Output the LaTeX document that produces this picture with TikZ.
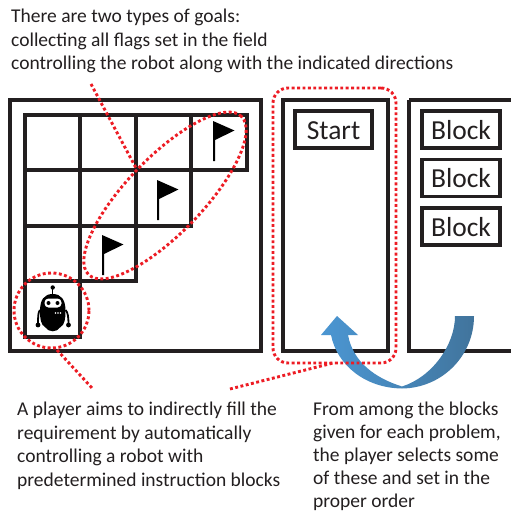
\documentclass[tikz,border=0pt]{standalone}
\usepackage{fontspec}
\setmainfont{Carlito}
\usetikzlibrary{shapes.geometric}
\definecolor{ink}{HTML}{231F20}
\definecolor{reddot}{HTML}{ED1C24}
\definecolor{blueL}{HTML}{4B96D2}
\definecolor{blueD}{HTML}{41749C}
\tikzset{
  panel/.style={draw=ink,line width=4.2pt,fill=none},
  gridline/.style={draw=ink,line width=3.4pt,line cap=rect},
  blockbox/.style={draw=ink,line width=3.8pt,fill=white,inner sep=0pt,minimum height=37pt,font=\fontsize{27.5}{30}\selectfont,text=ink},
  reddash/.style={draw=reddot,line width=2.9pt,dash pattern=on 2.9pt off 2.5pt},
  caption/.style={font=\fontsize{19.5}{23.6}\selectfont,text=ink,align=left,inner sep=0pt,anchor=north west},
  captiontight/.style={caption,font=\fontsize{19.5}{23}\selectfont},
  flagshape/.style={fill=black,draw=none},
}
\newcommand{\flagat}[2]{%
  \fill[flagshape] (#1-1,#2) -- (#1+20.5,#2+9.5) -- (#1+1,#2+19) -- (#1+1,#2+40) -- (#1-1,#2+40) -- cycle;}
\begin{document}
\begin{tikzpicture}[x=1pt,y=-1pt]
\useasboundingbox (0,0) rectangle (511,511);
\fill[white] (0,0) rectangle (511,511);
% panels
\draw[panel] (10,100) rectangle (261,351);
\draw[panel] (283,100) rectangle (388,351);
\draw[panel] (409,100) -- (530,100) (409,100) -- (409,351) -- (530,351);
% grid
\draw[gridline] (25,115) rectangle (247,170);
\draw[gridline] (25,170) rectangle (191,226);
\draw[gridline] (25,226) rectangle (136,281);
\draw[gridline] (25,281) rectangle (80,337);
\draw[gridline] (80,115) -- (80,281) (136,115) -- (136,226) (191,115) -- (191,170);
% flags
\flagat{103}{235}
\flagat{158}{180}
\flagat{214}{121}
% robot
\fill[black] (52.7,287.5) circle (2.2);
\fill[black] (52,288) rectangle (53.4,296);
\fill[black] (40,311) .. controls (40,300) and (44,294) .. (52.7,294)
  .. controls (61.5,294) and (65.5,300) .. (65.5,311)
  .. controls (65.5,318) and (65,325) .. (60,327.5)
  .. controls (57,332.5) and (48.5,332.5) .. (45.5,327.5)
  .. controls (40.5,325) and (40,318) .. (40,311) -- cycle;
\fill[white,rounded corners=4pt] (44.5,298.5) rectangle (61.5,307.5);
\fill[black] (48.5,303) circle (2) (57.5,303) circle (2);
\fill[white] (55.5,313) circle (0.9) (58,313) circle (0.9) (60.5,313) circle (0.9);
\draw[black,line width=1.8pt] (40,310) .. controls (38,312) and (38,318) .. (38,325) (65.5,310) .. controls (68,312) and (68.5,318) .. (68.5,325);
\fill[black] (38,325) circle (2.4) (68.5,325) circle (2.4);
% blocks
\node[blockbox,minimum width=77pt,text depth=0pt,text height=19pt] (start) at (333.5,129.5) {Start};
\node[blockbox,minimum width=78pt,text depth=0pt,text height=19pt] (b1) at (461,129.5) {Block};
\node[blockbox,minimum width=78pt,text depth=0pt,text height=19pt] (b2) at (461,178) {Block};
\node[blockbox,minimum width=78pt,text depth=0pt,text height=19pt] (b3) at (461,226.5) {Block};
% arrow
\shade[left color=blueL,right color=blueD,middle color=blueL!55!blueD]
  (455,316) .. controls (455,345) and (432,377) .. (402,386.5)
  .. controls (375,378) and (353,362) .. (348,335)
  -- (358,335) -- (337,316) -- (321,335) -- (331,335)
  .. controls (337,365) and (365,388) .. (402,388.5)
  .. controls (442,388) and (474,356) .. (474,316) -- cycle;
% highlights
\node[reddash,ellipse,rotate=46,minimum width=220pt,minimum height=76pt,inner sep=0pt] (goal) at (165,195.5) {};
\node[reddash,circle,minimum size=75pt,inner sep=0pt] (robot) at (51.5,310.5) {};
\node[reddash,rectangle,rounded corners=15pt,minimum width=123pt,minimum height=275pt,inner sep=0pt] (prog) at (334.5,225.5) {};
\coordinate (topEnd) at (91,84);
\coordinate (goalPt) at (136,168);
\coordinate (robotEnd) at (92,388);
\coordinate (robotPt) at (57,350);
\coordinate (progEnd) at (230,389);
\coordinate (progPt) at (333,363);
\draw[reddash] (topEnd) -- (goalPt);
\draw[reddash] (robotPt) -- (robotEnd);
\draw[reddash] (progEnd) -- (progPt);
% captions
\node[caption] (t1) at (11,9) {There are two types of goals:\\collecting all flags set in the field\\controlling the robot along with the indicated directions};
\node[caption] (t2) at (17,402) {A player aims to indirectly fill the\\requirement by automatically\\controlling a robot with\\predetermined instruction blocks};
\node[captiontight] (t3) at (313,401.5) {From among the blocks\\given for each problem,\\the player selects some\\of these and set in the\\proper order};
\end{tikzpicture}
\end{document}
